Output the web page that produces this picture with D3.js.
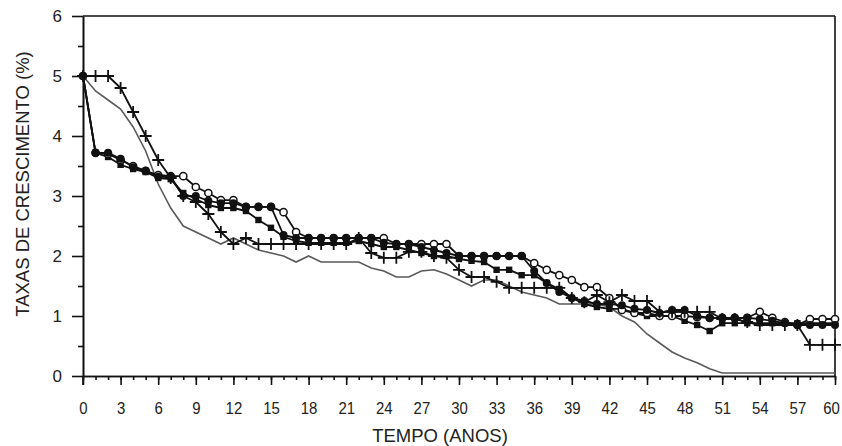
<!DOCTYPE html>
<html><head><meta charset="utf-8">
<script src="https://cdn.jsdelivr.net/npm/d3@7"></script>
<style>
body{margin:0;background:#fff;}
svg{display:block;font-family:"Liberation Sans",Arial,Helvetica,sans-serif;}
</style></head>
<body><svg id="chart" width="842" height="446"></svg>
<script>
const years = d3.range(0, 61);
const xTickLabels = d3.range(0, 61, 3);
const yTickLabels = [0, 1, 2, 3, 4, 5, 6];

const grayLine = [5.0,4.75,4.6,4.45,4.15,3.75,3.2,2.8,2.5,2.4,2.3,2.2,2.3,2.2,2.1,2.05,2.0,1.9,2.0,1.9,1.9,1.9,1.9,1.8,1.75,1.65,1.65,1.75,1.77,1.7,1.6,1.5,1.6,1.6,1.5,1.4,1.35,1.3,1.2,1.2,1.2,1.2,1.15,1.0,0.9,0.7,0.55,0.4,0.3,0.22,0.12,0.05,0.05,0.05,0.05,0.05,0.05,0.05,0.05,0.05,0.05];

const squareSeries = [5.0,3.72,3.65,3.52,3.45,3.4,3.3,3.28,3.05,2.95,2.85,2.8,2.8,2.75,2.6,2.47,2.32,2.25,2.22,2.22,2.22,2.22,2.25,2.2,2.15,2.15,2.1,2.05,2.0,2.0,1.95,1.92,1.9,1.77,1.77,1.68,1.68,1.55,1.45,1.3,1.2,1.15,1.12,1.12,1.05,1.0,1.0,1.0,0.92,0.85,0.75,0.88,0.88,0.88,0.88,0.88,0.88,0.88,0.88,0.88,0.88];

const filledCircleSeries = [5.0,3.72,3.72,3.62,3.48,3.42,3.32,3.32,3.0,3.0,2.92,2.88,2.88,2.82,2.82,2.82,2.35,2.3,2.3,2.3,2.3,2.3,2.3,2.3,2.22,2.2,2.2,2.15,2.1,2.05,2.0,2.0,2.0,2.0,2.0,2.0,1.75,1.55,1.4,1.3,1.25,1.2,1.2,1.18,1.12,1.1,1.05,1.1,1.1,1.0,0.97,0.97,0.97,0.97,0.95,0.92,0.88,0.85,0.85,0.85,0.85];

const openCircleSeries = [5.0,3.72,3.7,3.6,3.5,3.42,3.35,3.33,3.33,3.15,3.05,2.93,2.93,2.82,2.82,2.82,2.73,2.4,2.3,2.3,2.3,2.3,2.3,2.3,2.3,2.2,2.2,2.2,2.2,2.2,2.0,2.0,2.0,2.0,2.0,2.0,1.88,1.77,1.68,1.6,1.48,1.48,1.3,1.1,1.05,1.05,1.0,1.0,1.0,0.98,0.97,0.97,0.97,0.97,1.07,0.97,0.9,0.85,0.95,0.95,0.95];

const plusSeries = [5.0,5.0,5.0,4.8,4.4,4.0,3.6,3.3,3.0,2.9,2.7,2.4,2.2,2.3,2.2,2.2,2.2,2.2,2.2,2.2,2.2,2.2,2.3,2.05,1.97,1.97,2.07,2.07,2.0,1.97,1.77,1.65,1.65,1.57,1.47,1.47,1.47,1.47,1.47,1.3,1.23,1.35,1.23,1.35,1.25,1.25,1.07,1.07,1.07,1.07,1.07,0.95,0.95,0.9,0.85,0.85,0.85,0.85,0.52,0.52,0.52];

const svg = d3.select("#chart");
const x = d3.scaleLinear().domain([0, 60]).range([83, 835]);
const y = d3.scaleLinear().domain([0, 6]).range([376, 16]);

// axes
const gx = svg.append("g").attr("transform", `translate(0,${y(0)})`);
gx.call(d3.axisBottom(x).tickValues(years).tickSize(4).tickSizeOuter(0).tickFormat(""));
gx.call(g => g.selectAll(".tick text").remove());
const gx2 = svg.append("g").attr("transform", `translate(0,${y(0)})`);
gx2.call(d3.axisBottom(x).tickValues(xTickLabels).tickSize(9).tickSizeOuter(0).tickPadding(17).tickFormat(d3.format("d")));
const gy = svg.append("g").attr("transform", `translate(${x(0)},0)`);
gy.call(d3.axisLeft(y).tickValues(d3.range(0.5, 6, 1)).tickSize(5).tickSizeOuter(0).tickFormat(""));
const gy2 = svg.append("g").attr("transform", `translate(${x(0)},0)`);
gy2.call(d3.axisLeft(y).tickValues(yTickLabels).tickSize(11).tickSizeOuter(0).tickPadding(10).tickFormat(d3.format("d")));
svg.selectAll(".domain, .tick line").attr("stroke", "#111").attr("stroke-width", 1.6);
svg.selectAll(".tick text").attr("font-size", 17).attr("fill", "#222")
  .attr("font-family", '"Liberation Sans",Arial,sans-serif');
// narrower digits on x axis, as in the reference
gx2.selectAll(".tick text").attr("transform", d => d === 60 ? "translate(-4,0) scale(0.88,1)" : "scale(0.88,1)");

// frame top and right
svg.append("line").attr("x1", x(0)).attr("x2", x(60)).attr("y1", y(6)).attr("y2", y(6))
  .attr("stroke", "#111").attr("stroke-width", 1.6);
svg.append("line").attr("x1", x(60)).attr("x2", x(60)).attr("y1", y(6)).attr("y2", y(0))
  .attr("stroke", "#111").attr("stroke-width", 1.6);
svg.append("line").attr("x1", x(0)).attr("x2", x(0)).attr("y1", y(0)).attr("y2", y(0) + 9)
  .attr("stroke", "#111").attr("stroke-width", 1.6);

// titles
svg.append("text").attr("x", 440).attr("y", 442).attr("text-anchor", "middle")
  .attr("font-size", 18.5).attr("fill", "#222").text("TEMPO (ANOS)");
svg.append("text").attr("transform", "translate(29,184) rotate(-90)").attr("text-anchor", "middle")
  .attr("font-size", 18.5).attr("fill", "#222").text("TAXAS DE CRESCIMENTO (%)");

const line = d3.line().x((d, i) => x(years[i])).y(d => y(d));

svg.append("path").datum(grayLine).attr("d", line).attr("fill", "none")
  .attr("stroke", "#5a5a5a").attr("stroke-width", 1.6);

function drawSeries(data) {
  svg.append("path").datum(data).attr("d", line).attr("fill", "none")
    .attr("stroke", "#111").attr("stroke-width", 1.8).attr("stroke-linejoin", "round");
}
drawSeries(squareSeries);
drawSeries(openCircleSeries);
drawSeries(filledCircleSeries);
drawSeries(plusSeries);

svg.append("g").selectAll("rect").data(squareSeries).join("rect")
  .attr("x", (d, i) => x(years[i]) - 3.2).attr("y", d => y(d) - 3.2)
  .attr("width", 6.4).attr("height", 6.4).attr("fill", "#111");
svg.append("g").selectAll("circle").data(openCircleSeries).join("circle")
  .attr("cx", (d, i) => x(years[i])).attr("cy", d => y(d)).attr("r", 3.6)
  .attr("fill", "#fff").attr("stroke", "#111").attr("stroke-width", 1.5);
svg.append("g").selectAll("circle").data(filledCircleSeries).join("circle")
  .attr("cx", (d, i) => x(years[i])).attr("cy", d => y(d)).attr("r", 4)
  .attr("fill", "#111");
svg.append("g").selectAll("path").data(plusSeries).join("path")
  .attr("d", (d, i) => {
    const cx = x(years[i]), cy = y(d);
    return `M${cx - 6},${cy}H${cx + 6}M${cx},${cy - 6}V${cy + 6}`;
  })
  .attr("stroke", "#111").attr("stroke-width", 1.8).attr("fill", "none");
</script></body></html>
